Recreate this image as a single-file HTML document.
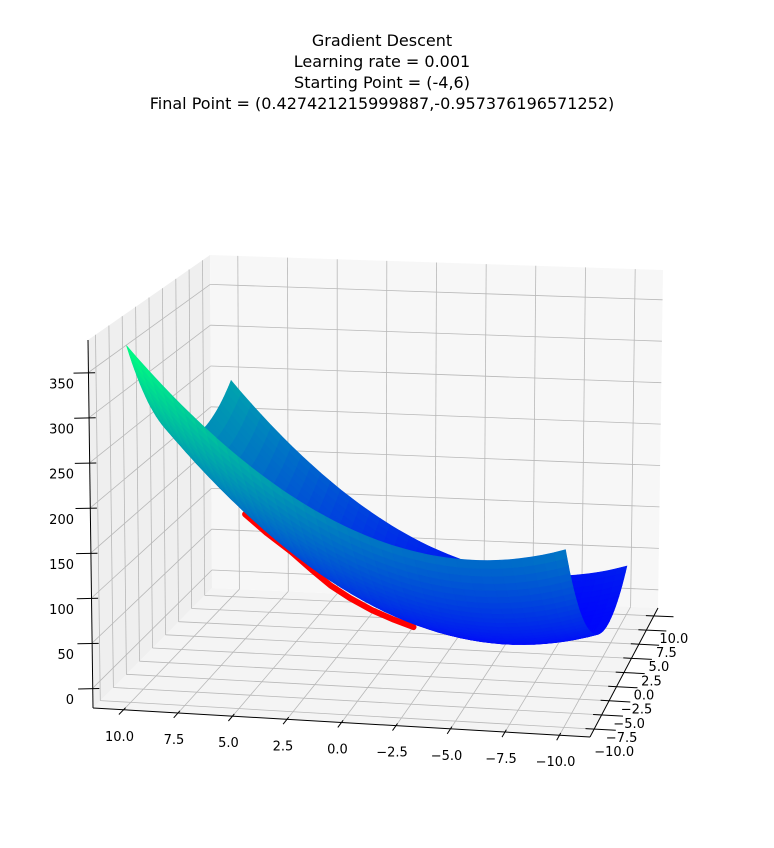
<!DOCTYPE html>
<html><head><meta charset="utf-8"><style>
html,body{margin:0;padding:0;background:#fff;}
svg{display:block;font-family:"DejaVu Sans","Liberation Sans",sans-serif;}
</style></head><body>
<svg id="chart" width="774" height="848" viewBox="0 0 774 848" xmlns="http://www.w3.org/2000/svg">
<g font-size="16" text-anchor="middle" fill="#000">
<text x="382" y="46">Gradient Descent</text>
<text x="382" y="67">Learning rate = 0.001</text>
<text x="382" y="88">Starting Point = (-4,6)</text>
<text x="382" y="109">Final Point = (0.427421215999887,-0.957376196571252)</text>
</g>
<g id="panes"></g>
<g id="grid"></g>
<g id="axes"></g>
<g id="path"></g>
<g id="surf"></g>
<g id="labels" font-size="13" fill="#000"></g>
</svg>
<script>
const uTicks=[-10,-7.5,-5,-2.5,0,2.5,5,7.5,10];
const uTickLabels=["\u221210.0","\u22127.5","\u22125.0","\u22122.5","0.0","2.5","5.0","7.5","10.0"];
const vTicks=[-10,-7.5,-5,-2.5,0,2.5,5,7.5,10];
const vTickLabels=["\u221210.0","\u22127.5","\u22125.0","\u22122.5","0.0","2.5","5.0","7.5","10.0"];
const zTicks=[0,50,100,150,200,250,300,350];
const zTickLabels=["0","50","100","150","200","250","300","350"];
const coef=[0.89,0.84,0,10.22,-6.72,32.8]; // A u^2 + B v^2 + C uv + D u + E v + F
const pathU=[4.6,3.6,2.5,1.5,0.7,-0.2,-1.2,-2.2,-3.1];
const pathV=[-10.3,-10.3,-10.3,-10.3,-10.3,-10.3,-10.3,-10.3,-10.3];
const pathZ=[195,175,156,136,121,108,96,87,80];

const NS="http://www.w3.org/2000/svg";
const UL=11.4,UR=-11.4,VF=-11.4,VB=11.4,ZB=-22,ZT=386;
const C={ '000':[93,708],'100':[590,737],'110':[658,608],'010':[212,588],
          '001':[88,340],'011':[210,255],'111':[663,270],'101':[594,358]};
function P(u,v,z){
  const a=(u-UL)/(UR-UL), b=(v-VF)/(VB-VF), c=(z-ZB)/(ZT-ZB);
  let x=0,y=0;
  for(const k in C){
    const wa=k[0]==='1'?a:1-a, wb=k[1]==='1'?b:1-b, wc=k[2]==='1'?c:1-c;
    const w=wa*wb*wc; x+=w*C[k][0]; y+=w*C[k][1];
  }
  return [x,y];
}
function f(u,v){const [A,B,Cc,D,E,F]=coef;return A*u*u+B*v*v+Cc*u*v+D*u+E*v+F;}
function mk(tag,attrs,parent){const e=document.createElementNS(NS,tag);for(const k in attrs)e.setAttribute(k,attrs[k]);parent.appendChild(e);return e;}
function pts(arr){return arr.map(p=>p[0].toFixed(1)+','+p[1].toFixed(1)).join(' ');}

const panes=document.getElementById('panes');
let e;
e=mk('polygon',{points:pts([P(UL,VF,ZB),P(UR,VF,ZB),P(UR,VB,ZB),P(UL,VB,ZB)]),fill:'#f4f4f4'},panes);


e=mk('polygon',{points:pts([P(UL,VF,ZB),P(UL,VB,ZB),P(UL,VB,ZT),P(UL,VF,ZT)]),fill:'#efefef'},panes);


e=mk('polygon',{points:pts([P(UL,VB,ZB),P(UR,VB,ZB),P(UR,VB,ZT),P(UL,VB,ZT)]),fill:'#f7f7f7'},panes);



const grid=document.getElementById('grid');
function gl(a,b,name){const l=mk('polyline',{points:pts([a,b]),stroke:'#b8b8b8','stroke-width':0.8,fill:'none'},grid);

}
uTicks.forEach(u=>{gl(P(u,VF,ZB),P(u,VB,ZB),'floor-grid-u');gl(P(u,VB,ZB),P(u,VB,ZT),'back-grid-u');});
vTicks.forEach(v=>{gl(P(UR,v,ZB),P(UL,v,ZB),'floor-grid-v');gl(P(UL,v,ZB),P(UL,v,ZT),'left-grid-v');});
zTicks.forEach(z=>{gl(P(UL,VF,z),P(UL,VB,z),'left-grid-z');gl(P(UL,VB,z),P(UR,VB,z),'back-grid-z');});

const axes=document.getElementById('axes');
function al(a,b,name){const l=mk('polyline',{points:pts([a,b]),stroke:'#000','stroke-width':1,fill:'none'},axes);

}
al(P(UL,VF,ZB),P(UR,VF,ZB),'x-axis-line');
al(P(UR,VF,ZB),P(UR,VB,ZB),'y-axis-line');
al(P(UL,VF,ZB),P(UL,VF,ZT),'z-axis-line');
uTicks.forEach(u=>al(P(u,VF+0.4,ZB),P(u,VF-0.9,ZB),'x-tick'));
vTicks.forEach(v=>al(P(UR+0.4,v,ZB),P(UR-1.0,v,ZB),'y-tick'));
zTicks.forEach(z=>al(P(UL-0.3,VF,z),P(UL+0.6,VF-0.3,z),'z-tick'));

const pathG=document.getElementById('path');
const pp=pathU.map((u,i)=>P(u,pathV[i],pathZ[i]));
e=mk('polyline',{points:pts(pp),stroke:'#ff0000','stroke-width':6,fill:'none','stroke-linecap':'round','stroke-linejoin':'round'},pathG);



const surf=document.getElementById('surf');
const N=40, quads=[];
let zmin=Infinity,zmax=-Infinity;
for(let i=0;i<=N;i++)for(let j=0;j<=N;j++){const z=f(-10+20*i/N,-10+20*j/N);zmin=Math.min(zmin,z);zmax=Math.max(zmax,z);}
for(let i=0;i<N;i++)for(let j=0;j<N;j++){
  const u0=-10+20*i/N,u1=-10+20*(i+1)/N,v0=-10+20*j/N,v1=-10+20*(j+1)/N;
  const zs=[f(u0,v0),f(u1,v0),f(u1,v1),f(u0,v1)];
  const zc=(zs[0]+zs[1]+zs[2]+zs[3])/4, uc=(u0+u1)/2, vc=(v0+v1)/2;
  quads.push({p:[P(u0,v0,zs[0]),P(u1,v0,zs[1]),P(u1,v1,zs[2]),P(u0,v1,zs[3])],zc,far:vc+0.25*uc-0.012*zc});
}
quads.sort((a,b)=>b.far-a.far);
quads.forEach(q=>{
  const t=(q.zc-zmin)/(zmax-zmin);
  const col='rgb(0,'+Math.round(255*t)+','+Math.round(255*(1-0.5*t))+')';
  const el=mk('polygon',{points:pts(q.p),fill:col,stroke:col,'stroke-width':0.6},surf);
  
  
});

const lab=document.getElementById('labels');
uTicks.forEach((u,i)=>{const p=P(u,VF,ZB);const t=mk('text',{x:(p[0]-4).toFixed(1),y:(p[1]+31).toFixed(1),'text-anchor':'middle'},lab);t.textContent=uTickLabels[i];

});
vTicks.forEach((v,i)=>{const p=P(UR,v,ZB);const t=mk('text',{x:(p[0]+20).toFixed(1),y:(p[1]+27).toFixed(1),'text-anchor':'middle'},lab);t.textContent=vTickLabels[i];

});
zTicks.forEach((z,i)=>{const p=P(UL,VF,z);const t=mk('text',{x:74,y:(p[1]+16).toFixed(1),'text-anchor':'end'},lab);t.textContent=zTickLabels[i];

});
</script>
</body></html>
